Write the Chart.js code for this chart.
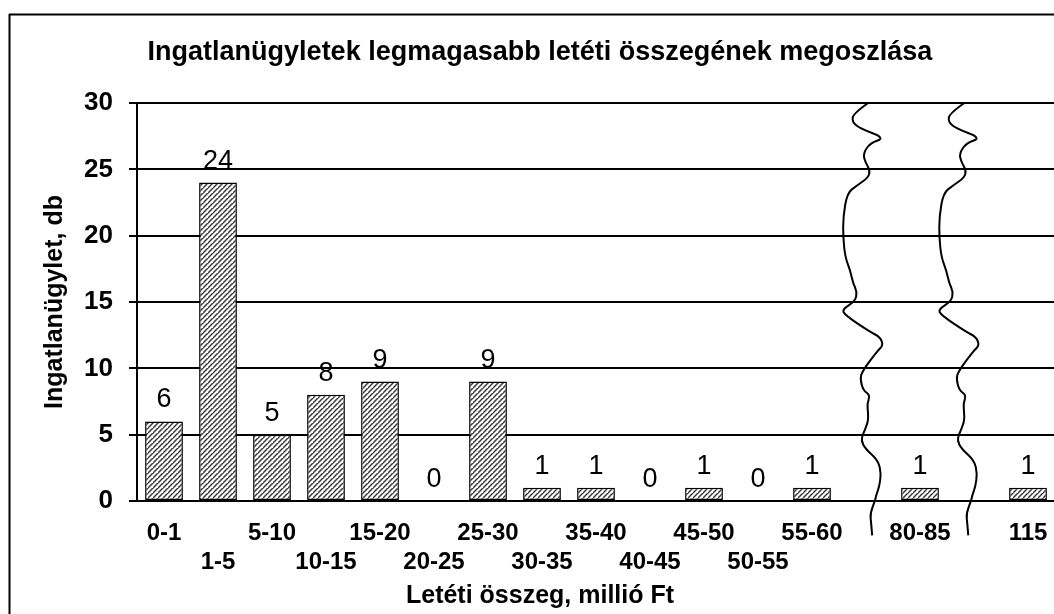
<!DOCTYPE html>
<html>
<head>
<meta charset="utf-8">
<script src="https://cdn.jsdelivr.net/npm/chart.js@4.4.1/dist/chart.umd.min.js"></script>
<style>
  html, body { margin: 0; padding: 0; background: #fff; overflow: hidden; width: 1054px; height: 614px; }
  #wrap { position: absolute; left: 8px; top: 13px; width: 1064px; height: 620px; }
</style>
</head>
<body>
<div id="wrap"><canvas id="c"></canvas></div>
<script>
// ---- data ----
const chartTitle = 'Ingatlanügyletek legmagasabb letéti összegének megoszlása';
const xTitle = 'Letéti összeg, millió Ft';
const yTitle = 'Ingatlanügylet, db';
const categories = ['0-1','1-5','5-10','10-15','15-20','20-25','25-30','30-35','35-40','40-45','45-50','50-55','55-60','','80-85','','115'];
const counts = [6, 24, 5, 8, 9, 0, 9, 1, 1, 0, 1, 0, 1, null, 1, null, 1];
const yTicks = [0, 5, 10, 15, 20, 25, 30];
const axisBreaks = [13.04, 14.82]; // positions (in category units) of the wavy axis-break marks

// break-mark shape: [dx px, dy px from top of plot]
const breakShape = [[0,0],[-15,10.6],[-16,19],[-8,25.6],[17,35],[2,40],[-5,50.6],[-3,59],[2,67.3],[0,74.6],[-11,82.3],[-21,90],[-25,114],[-25,134],[-23,154],[-18,167.3],[-15,180.6],[-11,189],[-13,198.3],[-26,206.3],[-23,212.3],[2,229],[12,234],[15,242.3],[10,247.3],[2,257.3],[-6,269],[-8,275.6],[-5,287.3],[2,292.3],[-1,300.6],[0,310.6],[0,319],[-5,330.6],[-7,337.3],[-3,345.6],[10,357.3],[13,370.6],[11,384],[8,392.3],[7,397.3],[2,410.3],[3,420.3],[4,432.3]];

const FONT = "'Liberation Sans', Arial, sans-serif";

function makePattern() {
  const s = 5;
  const c = document.createElement('canvas');
  c.width = s; c.height = s;
  const g = c.getContext('2d');
  g.fillStyle = '#ffffff';
  g.fillRect(0, 0, s, s);
  g.strokeStyle = '#3a3a3a';
  g.lineWidth = 1.5;
  g.beginPath();
  g.moveTo(-1, s + 1); g.lineTo(s + 1, -1);
  g.moveTo(-s - 1, s + 1); g.lineTo(1, -1);
  g.moveTo(s - 1, 2 * s + 1); g.lineTo(2 * s + 1, s - 1);
  g.stroke();
  const ctx = document.createElement('canvas').getContext('2d');
  return ctx.createPattern(c, 'repeat');
}

const tickLabels = categories.map((c, i) => (i % 2 === 0 ? [c, ''] : ['', c]));

const decorPlugin = {
  id: 'decor',
  afterDatasetsDraw(chart) {
    const ctx = chart.ctx;
    const meta = chart.getDatasetMeta(0);
    ctx.save();
    ctx.fillStyle = '#000';
    ctx.font = '27px ' + FONT;
    ctx.textAlign = 'center';
    ctx.textBaseline = 'alphabetic';
    meta.data.forEach((bar, i) => {
      const v = counts[i];
      if (v === null || v === undefined) return;
      ctx.fillText(String(v), bar.x, bar.y - 14);
    });
    ctx.restore();
  },
  afterDraw(chart) {
    const ctx = chart.ctx;
    const area = chart.chartArea;
    const xs = chart.scales.x;
    const step = xs.getPixelForValue(1) - xs.getPixelForValue(0);
    ctx.save();
    // wavy break marks
    ctx.strokeStyle = '#000';
    ctx.lineWidth = 2;
    ctx.lineJoin = 'round';
    axisBreaks.forEach(b => {
      const bx = xs.getPixelForValue(0) + b * step;
      const pts = breakShape.map(p => [bx + p[0], area.top + p[1]]);
      ctx.beginPath();
      ctx.moveTo(pts[0][0], pts[0][1]);
      for (let i = 1; i < pts.length - 1; i++) {
        const mx = (pts[i][0] + pts[i + 1][0]) / 2;
        const my = (pts[i][1] + pts[i + 1][1]) / 2;
        ctx.quadraticCurveTo(pts[i][0], pts[i][1], mx, my);
      }
      const last = pts[pts.length - 1];
      ctx.lineTo(last[0], last[1]);
      ctx.stroke();
    });
    // titles
    ctx.fillStyle = '#000';
    ctx.textAlign = 'center';
    ctx.textBaseline = 'alphabetic';
    ctx.font = 'bold 27px ' + FONT;
    ctx.fillText(chartTitle, chart.width / 2, 47);
    ctx.font = 'bold 25px ' + FONT;
    ctx.fillText(xTitle, chart.width / 2, 590);
    // outer frame
    ctx.lineWidth = 2;
    ctx.strokeStyle = '#000';
    ctx.strokeRect(1.5, 1.5, chart.width + 20, chart.height + 20);
    ctx.restore();
  }
};

new Chart(document.getElementById('c'), {
  type: 'bar',
  data: {
    labels: tickLabels,
    datasets: [{
      data: counts,
      backgroundColor: makePattern(),
      borderColor: '#000',
      borderWidth: 1.5,
      borderSkipped: false,
      barPercentage: 0.7,
      categoryPercentage: 1.0
    }]
  },
  options: {
    responsive: true,
    maintainAspectRatio: false,
    animation: false,
    devicePixelRatio: 1,
    layout: { padding: { top: 90, right: 17, bottom: 0, left: 0 } },
    plugins: {
      legend: { display: false },
      title: { display: false },
      tooltip: { enabled: false }
    },
    scales: {
      x: {
        grid: { display: false, drawTicks: false },
        border: { display: true, color: '#000', width: 2 },
        ticks: {
          autoSkip: false,
          maxRotation: 0,
          minRotation: 0,
          padding: 18,
          color: '#000',
          font: { family: FONT, size: 24, weight: 'bold', lineHeight: 1.2 }
        },
        afterFit(scale) { scale.height = 132; }
      },
      y: {
        min: 0,
        max: 30,
        afterBuildTicks(scale) { scale.ticks = yTicks.map(v => ({ value: v })); },
        grid: { color: '#000', lineWidth: 2, tickLength: 8, drawTicks: true },
        border: { display: true, color: '#000', width: 2 },
        ticks: {
          padding: 16,
          color: '#000',
          font: { family: FONT, size: 26, weight: 'bold' }
        },
        title: {
          display: true,
          text: yTitle,
          color: '#000',
          padding: { top: 32, bottom: 0 },
          font: { family: FONT, size: 25, weight: 'bold', lineHeight: 1.2 }
        },
        afterFit(scale) { scale.width = 129; }
      }
    }
  },
  plugins: [decorPlugin]
});
</script>
</body>
</html>
